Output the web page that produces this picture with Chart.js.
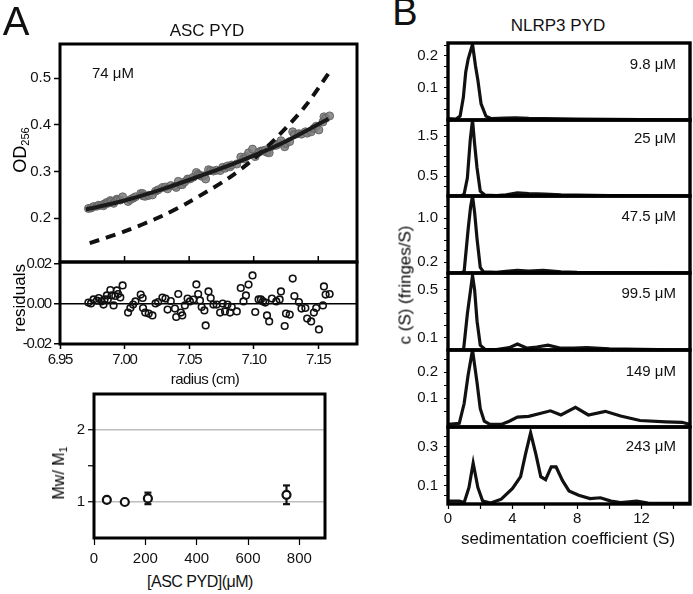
<!DOCTYPE html>
<html><head><meta charset="utf-8">
<script src="https://cdn.jsdelivr.net/npm/chart.js@4"></script>
<style>
body{margin:0;background:#fff;width:693px;height:594px;position:relative;overflow:hidden;font-family:"Liberation Sans",Arial,sans-serif;color:#111}
canvas{position:absolute}
.t{position:absolute;white-space:nowrap;line-height:1}
.v{writing-mode:vertical-rl;}
</style></head><body>
<script>
// ---------- Panel A (top): ASC PYD absorbance ----------
const radius = [6.972,6.974,6.976,6.9786,6.980,6.982,6.9837,6.9845,6.9863,6.987,6.989,6.990,6.9915,6.9928,6.994,6.995,6.9967,6.9985,7.0027,7.0045,7.0066,7.0084,7.0125,7.014,7.0143,7.016,7.0187,7.0216,7.024,7.026,7.0293,7.0317,7.0333,7.0358,7.039,7.040,7.0416,7.0436,7.0447,7.0467,7.0488,7.0506,7.0532,7.0556,7.057,7.0584,7.0597,7.0618,7.0628,7.065,7.0667,7.0688,7.0713,7.074,7.076,7.0778,7.0797,7.0817,7.083,7.0869,7.090,7.0921,7.094,7.096,7.0991,7.1012,7.1038,7.1056,7.1072,7.109,7.1103,7.112,7.1141,7.1175,7.1201,7.1211,7.124,7.125,7.1279,7.1302,7.1315,7.135,7.137,7.140,7.1414,7.1445,7.1466,7.1484,7.1505,7.1536,7.1544,7.1557,7.1588];
const observedOD = [0.221,0.222,0.225,0.226,0.228,0.228,0.227,0.231,0.234,0.232,0.238,0.236,0.232,0.237,0.241,0.240,0.239,0.246,0.236,0.240,0.243,0.246,0.253,0.253,0.248,0.247,0.249,0.250,0.258,0.261,0.266,0.267,0.263,0.270,0.269,0.266,0.279,0.272,0.272,0.278,0.284,0.284,0.288,0.298,0.294,0.292,0.290,0.291,0.284,0.304,0.302,0.301,0.303,0.302,0.309,0.307,0.312,0.310,0.314,0.316,0.331,0.327,0.332,0.340,0.348,0.332,0.341,0.344,0.344,0.346,0.341,0.340,0.354,0.356,0.360,0.366,0.353,0.360,0.364,0.385,0.379,0.381,0.380,0.385,0.382,0.385,0.392,0.397,0.389,0.406,0.417,0.414,0.419];
const residuals = [0.0007,0.0003,0.0023,0.0017,0.003,0.0013,-0.0003,0.0023,0.0043,0.0023,0.007,0.0043,-0.0007,0.004,0.0068,0.005,0.0033,0.0093,-0.0043,-0.002,-0.0003,0.0013,0.0047,0.003,-0.002,-0.0043,-0.0048,-0.0057,0.0003,0.001,0.0032,0.0027,-0.0028,0.0015,-0.0023,-0.0065,0.005,-0.0043,-0.0057,-0.0007,0.0027,0.0013,0.0022,0.0098,0.005,0.0018,-0.0015,-0.0032,-0.0107,0.0063,0.003,-0.0003,-0.0003,-0.0043,0.0002,-0.0037,-0.0003,-0.0043,-0.0015,-0.0037,0.008,0.0013,0.0043,0.0097,0.0143,-0.004,0.0023,0.0023,0.0013,0.0007,-0.0057,-0.0087,0.0027,0.0013,0.0023,0.0063,-0.011,-0.0048,-0.0053,0.0127,0.004,0.001,-0.0023,-0.002,-0.0073,-0.0087,-0.0043,-0.002,-0.0127,-0.0007,0.0088,0.0047,0.005];
const fitRadius = [6.97,7.00,7.03,7.06,7.09,7.12,7.158];
const fitOD     = [0.219,0.238,0.263,0.292,0.323,0.358,0.413];
const dimerRadius = [6.973,7.00,7.029,7.05,7.08,7.10,7.119,7.14,7.158];
const dimerOD     = [0.147,0.172,0.205,0.235,0.285,0.327,0.376,0.44,0.510];
const odTicks = [0.2,0.3,0.4,0.5];
const radiusTicks = [6.95,7.00,7.05,7.10,7.15];
const residTicks = [-0.02,0,0.02];

// ---------- Panel A (bottom): Mw/M1 ----------
const ascConc = [50,120,210,750];
const mwRatio = [1.03,1.00,1.05,1.10];
const mwError = [0.02,0.02,0.08,0.13];
const concTicks = [0,200,400,600,800];
const mwTicks = [1,1.5,2];

// ---------- Panel B: NLRP3 PYD c(S) ----------
const s98 = [0,0.5,0.75,0.95,1.1,1.25,1.52,1.7,1.85,2.05,2.35,2.7,3.5,4.2,5,6,8,10,12,15];
const c98 = [0.004,0.003,0.012,0.07,0.15,0.19,0.236,0.17,0.125,0.05,0.012,0.004,0.006,0.007,0.005,0.004,0.003,0.002,0.001,0.0];
const s25 = [0,0.8,1.0,1.2,1.38,1.52,1.65,1.8,2.0,2.3,3,3.6,4.3,5,6,7,8,10,12,15];
const c25 = [0.0,0.0,0.05,0.45,1.4,1.9,1.3,0.7,0.12,0.02,0.01,0.03,0.08,0.06,0.05,0.03,0.02,0.01,0.005,0.0];
const s475 = [0,0.8,1.0,1.25,1.4,1.52,1.65,1.8,2.0,2.2,3,3.6,4.3,5,5.9,7,8,10,12,15];
const c475 = [0.0,0.0,0.03,0.8,1.2,1.4,1.1,0.62,0.1,0.02,0.01,0.03,0.05,0.035,0.05,0.02,0.01,0.005,0.003,0.0];
const s995 = [0,0.8,0.97,1.2,1.4,1.52,1.65,1.8,2.0,2.3,3,3.8,4.3,4.9,5.5,6.2,7,7.8,8.6,10,12,15];
const c995 = [0.0,0.0,0.01,0.3,0.5,0.62,0.5,0.24,0.04,0.005,0.003,0.02,0.05,0.015,0.025,0.04,0.015,0.015,0.02,0.01,0.005,0.0];
const s149 = [0,0.7,1.0,1.25,1.52,1.8,2.0,2.25,2.6,3.3,3.8,4.3,5.0,5.7,6.35,7.0,7.9,8.7,9.75,10.7,11.9,13.5,14.5,15];
const c149 = [0.0,0.004,0.08,0.19,0.285,0.16,0.06,0.012,0.0,0.0,0.012,0.028,0.031,0.042,0.052,0.036,0.065,0.036,0.05,0.032,0.015,0.01,0.008,0.0];
const s243 = [0,0.7,1.0,1.3,1.56,1.85,2.15,2.65,3.3,4.0,4.5,4.8,5.12,5.45,5.75,6.05,6.4,6.7,7.1,7.5,8.1,8.8,9.45,10.1,10.7,11.7,12.4,13.5,15];
const c243 = [0.02,0.02,0.012,0.09,0.215,0.09,0.02,0.01,0.03,0.085,0.145,0.26,0.37,0.26,0.145,0.13,0.195,0.195,0.125,0.072,0.05,0.033,0.037,0.02,0.012,0.02,0.01,0.008,0.008];
const concLabels = ['9.8 μM','25 μM','47.5 μM','99.5 μM','149 μM','243 μM'];
const sedTicks = [0,2,4,6,8,10,12,14];
const sedLabelled = [0,4,8,12];

// ---------- helpers ----------
const FONT = '"Liberation Sans", Arial, sans-serif';
Chart.defaults.font.family = FONT;
Chart.defaults.font.size = 15;
Chart.defaults.color = '#111';
const pts = (xs, ys) => xs.map((x,i)=>({x, y: ys[i]}));
const setTicks = list => s => { s.ticks = list.map(v=>({value:v})); };

const framePlugin = {
  id:'frame',
  beforeDraw(chart, args, opts){
    if (opts.spacing) chart.ctx.letterSpacing = opts.spacing;
  },
  afterDatasetsDraw(chart, args, opts){
    const {ctx, chartArea:a} = chart;
    ctx.save();
    ctx.strokeStyle = '#000';
    if (opts.innerX){
      ctx.lineWidth = 1.5;
      for (const v of opts.innerX){
        const px = chart.scales.x.getPixelForValue(v);
        ctx.beginPath(); ctx.moveTo(px, a.bottom); ctx.lineTo(px, a.bottom - 6); ctx.stroke();
      }
    }
    ctx.lineWidth = opts.width || 3;
    ctx.strokeRect(a.left, a.top, a.right - a.left, a.bottom - a.top);
    ctx.restore();
  },
  afterDraw(chart, args, opts){
    if (opts.spacing) chart.ctx.letterSpacing = '0px';
  }
};

function zeroPad(s){ s.paddingTop = 0; s.paddingBottom = 0; s.paddingLeft = 0; s.paddingRight = 0; }

function makeChart({box, area, yW, xH, datasets, scales, frame}){
  const cv = document.createElement('canvas');
  cv.width = box.w; cv.height = box.h;
  cv.style.left = box.x + 'px'; cv.style.top = box.y + 'px';
  cv.style.width = box.w + 'px'; cv.style.height = box.h + 'px';
  document.body.appendChild(cv);
  scales.y.afterFit = s => { s.width = yW; zeroPad(s); };
  scales.x.afterFit = s => { s.height = xH; zeroPad(s); };
  const padding = {left: area.l - box.x - yW, top: area.t - box.y, right: box.x + box.w - area.r, bottom: box.y + box.h - area.b - xH};
  const chart = new Chart(cv, {
    type:'scatter',
    data:{datasets},
    options:{responsive:false, animation:false, events:[], devicePixelRatio:1,
      layout:{padding:Object.assign({}, padding), autoPadding:false},
      scales,
      plugins:{legend:{display:false}, tooltip:{enabled:false}, frame: frame || {}}},
    plugins:[framePlugin]
  });
  for (let k=0; k<2; k++){
    const ca = chart.chartArea;
    const dl = (area.l - box.x) - ca.left, dt = (area.t - box.y) - ca.top;
    const dr = ca.right - (area.r - box.x), db = ca.bottom - (area.b - box.y);
    if (Math.abs(dl)+Math.abs(dt)+Math.abs(dr)+Math.abs(db) < 0.5) break;
    padding.left += dl; padding.top += dt; padding.right += dr; padding.bottom += db;
    chart.options.layout.padding = Object.assign({}, padding);
    chart.update();
  }
  return chart;
}

function text(html, x, y, size, opt={}){
  const d = document.createElement('div');
  d.className = 't' + (opt.rot ? ' v' : '');
  d.innerHTML = html;
  d.style.fontSize = size + 'px';
  d.style.left = x + 'px'; d.style.top = y + 'px';
  const anchor = opt.anchor || 'c';
  const tx = anchor === 'c' ? '-50%' : anchor === 'r' ? '-100%' : '0';
  d.style.transform = `translate(${tx},-50%)`;
  if (opt.ls) d.style.letterSpacing = opt.ls;
  if (opt.rot){
    d.style.transform = 'translate(-50%,-50%) rotate(180deg)';
    d.style.color = '#000';
  }
  document.body.appendChild(d);
}

// ---------- Chart A1: OD vs radius ----------
makeChart({
  box:{x:0,y:38,w:362,h:228}, area:{l:60,t:44,r:357,b:262}, yW:60, xH:0,
  frame:{innerX:[7.00,7.05,7.10,7.15]},
  datasets:[
    {data:pts(radius, observedOD), pointRadius:4, pointBackgroundColor:'rgba(125,125,125,0.85)', pointBorderColor:'rgba(95,95,95,0.9)', pointBorderWidth:1, order:3},
    {data:pts(dimerRadius, dimerOD), showLine:true, pointRadius:0, borderColor:'#111', borderWidth:4, borderDash:[10,7], tension:0.3, order:2},
    {data:pts(fitRadius, fitOD), showLine:true, pointRadius:0, borderColor:'#1a1a1a', borderWidth:4, tension:0.35, order:1}
  ],
  scales:{
    x:{type:'linear', display:false, min:6.95, max:7.18},
    y:{type:'linear', min:0.1066, max:0.5727, afterBuildTicks:setTicks(odTicks),
       ticks:{callback:v=>v.toFixed(1), padding:3},
       grid:{drawOnChartArea:false, tickLength:6, tickColor:'#000', tickWidth:1.5}, border:{color:'#000'}}
  }
});

// ---------- Chart A2: residuals ----------
makeChart({
  box:{x:0,y:258,w:362,h:112}, area:{l:60,t:262,r:357,b:344}, yW:60, xH:24,
  frame:{spacing:'-1.2px'},
  datasets:[
    {data:pts(radius, residuals), pointRadius:3.3, pointBackgroundColor:'rgba(255,255,255,0)', pointBorderColor:'#111', pointBorderWidth:1.6}
  ],
  scales:{
    x:{type:'linear', min:6.95, max:7.18, afterBuildTicks:setTicks(radiusTicks),
       ticks:{callback:v=>v.toFixed(2), padding:2, maxRotation:0},
       grid:{drawOnChartArea:false, tickLength:5, tickColor:'#000', tickWidth:1.5}},
    y:{type:'linear', min:-0.02, max:0.021, afterBuildTicks:setTicks(residTicks),
       ticks:{callback:v=>v.toFixed(2), padding:3},
       grid:{color:c=>(c.tick && c.tick.value===0)?'#000':'rgba(0,0,0,0)', lineWidth:1.5, tickLength:6, tickColor:'#000', tickWidth:1.5}}
  }
});

// ---------- Chart A3: Mw/M1 ----------
const errSets = ascConc.map((c,i)=>({
  data:[{x:c, y:mwRatio[i]-mwError[i]},{x:c, y:mwRatio[i]+mwError[i]}],
  showLine:true, borderColor:'#111', borderWidth:2.2, pointStyle:'line', pointRadius:3.5,
  pointBorderColor:'#111', pointBorderWidth:2.2, order:2
}));
makeChart({
  box:{x:0,y:388,w:340,h:180}, area:{l:94,t:394,r:325,b:538}, yW:94, xH:29,
  datasets:[
    {data:pts(ascConc, mwRatio), pointRadius:4, pointBackgroundColor:'#fff', pointBorderColor:'#111', pointBorderWidth:2.2, order:1},
    ...errSets
  ],
  scales:{
    x:{type:'linear', min:0, max:900, afterBuildTicks:setTicks(concTicks),
       ticks:{callback:v=>String(v), padding:5, maxRotation:0},
       grid:{drawOnChartArea:false, tickLength:7, tickColor:'#000', tickWidth:1.2}},
    y:{type:'linear', min:0.5, max:2.5, afterBuildTicks:setTicks(mwTicks),
       ticks:{callback:v=>(v===1.5?'':String(v)), padding:3},
       grid:{color:c=>(c.tick && c.tick.value!==1.5)?'#bdbdbd':'rgba(0,0,0,0)', lineWidth:1.5, tickLength:6, tickColor:'#000', tickWidth:1.2}}
  }
});

// ---------- Panel B charts ----------
const bPanels = [
  {s:s98,  c:c98,  min:0,     max:0.24,  major:[0.1,0.2], step:0.1/3},
  {s:s25,  c:c25,  min:0,     max:1.9,   major:[0.5,1.5], step:0.25},
  {s:s475, c:c475, min:0,     max:1.4,   major:[0.2,1.0], step:0.2},
  {s:s995, c:c995, min:0,     max:0.64,  major:[0.1,0.5], step:0.1},
  {s:s149, c:c149, min:-0.01, max:0.285, major:[0.1,0.2], step:0.05},
  {s:s243, c:c243, min:0.005, max:0.40,  major:[0.1,0.3], step:0.05}
];
const bTops = [43,120,196,273,350,427,504];
bPanels.forEach((p,i)=>{
  const last = i === bPanels.length-1;
  const t = bTops[i], b = bTops[i+1];
  const yt = [];
  for (let k=1; k*p.step < p.max - 1e-9; k++){ const v = k*p.step; if (v > p.min) yt.push(+v.toFixed(5)); }
  makeChart({
    box:{x:400, y:t-6, w:295, h: last ? (530-(t-6)) : (b-t+12)},
    area:{l:448, t, r:690, b}, yW:48, xH: last ? 23 : 0,
    frame:{width:3.4},
    datasets:[{data:pts(p.s, p.c), showLine:true, pointRadius:0, borderColor:'#111', borderWidth:3.2, tension:0}],
    scales:{
      x: last ? {type:'linear', min:0, max:15, afterBuildTicks:setTicks(sedTicks),
                 ticks:{callback:v=>(sedLabelled.includes(v)?String(v):''), padding:1, maxRotation:0, autoSkip:false},
                 grid:{drawOnChartArea:false, tickLength:5, tickColor:'#000', tickWidth:1.2}}
              : {type:'linear', min:0, max:15, display:false},
      y:{type:'linear', min:p.min, max:p.max, afterBuildTicks:setTicks(yt),
         ticks:{autoSkip:false, padding:6, callback:v=>(p.major.some(m=>Math.abs(m-v)<1e-6)?v.toFixed(1):'')},
         grid:{drawOnChartArea:false, tickLength:4, tickColor:'#000', tickWidth:1}}
    }
  });
});

// ---------- Text ----------
text('A', 16, 21, 40);
text('B', 405, 12, 38);
text('ASC PYD', 207, 30, 17);
text('NLRP3 PYD', 558, 25, 17);
text('74 μM', 92, 72, 15, {anchor:'l'});
text('OD<sub style="font-size:11px">256</sub>', 21, 150, 18, {rot:true});
text('residuals', 19, 298, 17, {rot:true});
text('radius (cm)', 205, 378, 15, {ls:'-0.6px'});
text('Mw/ M<sub style="font-size:11px">1</sub>', 60, 473, 16, {rot:true});
text('[ASC PYD](μM)', 200, 582, 16, {ls:'-0.5px'});
const labelY = [63,137,215,292,370,445];
concLabels.forEach((l,i)=>text(l, 676, labelY[i], 15, {anchor:'r'}));
text('sedimentation coefficient (S)', 568, 538, 17);
text('c (S) (fringes/S)', 405, 285, 17, {rot:true});
</script>
</body></html>
